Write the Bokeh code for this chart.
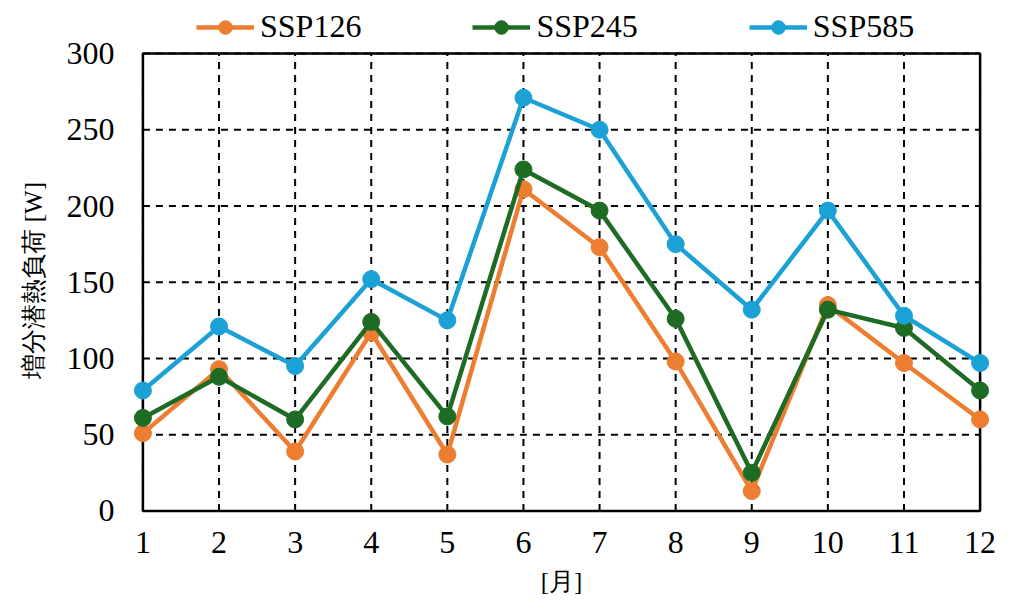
import numpy as np
from bokeh.plotting import figure
from bokeh.models import Range1d, FixedTicker, Legend, LegendItem, Title
from bokeh.embed import file_html
from bokeh.resources import INLINE

months = list(range(1, 13))
y_ticks = [0, 50, 100, 150, 200, 250, 300]
ssp126 = [51, 93, 39, 117, 37, 211, 173, 98, 13, 135, 97, 60]
ssp245 = [61, 88, 60, 124, 62, 224, 197, 126, 25, 132, 120, 79]
ssp585 = [79, 121, 95, 152, 125, 271, 250, 175, 132, 197, 128, 97]

series = [
    ("SSP126", ssp126, "#ED7D31"),
    ("SSP245", ssp245, "#1E6B24"),
    ("SSP585", ssp585, "#1BA1D6"),
]

SERIF = "Liberation Serif"

# the frame reaches up to the top edge so that the legend can sit above the box
p = figure(frame_width=860, frame_height=515,
           x_range=Range1d(0.85, 12.15), y_range=Range1d(-3, 334.8),
           output_backend="svg", toolbar_location=None,
           min_border_left=130, min_border_top=0,
           min_border_right=20, min_border_bottom=80)
p.outline_line_color = None
p.background_fill_color = "white"
p.border_fill_color = "white"
p.grid.visible = False

# dashed grid and the box, drawn only inside 1..12 / 0..300
x0, x1 = months[0], months[-1]
y0, y1 = y_ticks[0], y_ticks[-1]
p.segment(x0=months, x1=months, y0=[y0] * len(months), y1=[y1] * len(months),
          line_color="black", line_width=2, line_dash="7 6")
p.segment(x0=[x0] * len(y_ticks), x1=[x1] * len(y_ticks), y0=y_ticks, y1=y_ticks,
          line_color="black", line_width=2, line_dash="7 6")
p.quad(left=[x0], right=[x1], bottom=[y0], top=[y1], fill_color=None,
       line_color="black", line_width=2.5)

p.xaxis.ticker = FixedTicker(ticks=months)
p.yaxis.ticker = FixedTicker(ticks=y_ticks)
for ax in (p.xaxis, p.yaxis):
    ax.axis_line_color = None
    ax.major_tick_line_color = None
    ax.minor_tick_line_color = None
    ax.major_tick_out = 0
    ax.major_tick_in = 0
    ax.major_label_text_font = SERIF
    ax.major_label_text_font_size = "32px"
    ax.major_label_text_color = "black"
p.xaxis.major_label_standoff = 16
p.yaxis.major_label_standoff = 17
p.xaxis.axis_label = "[月]"
p.xaxis.axis_label_text_font = SERIF
p.xaxis.axis_label_text_font_size = "25px"
p.xaxis.axis_label_text_font_style = "normal"
p.xaxis.axis_label_text_color = "black"
p.xaxis.axis_label_standoff = 12

# y label as a side title so it can be centred on the box, not the frame
ylab = Title(text="増分潜熱負荷 [W]", align="left", offset=137, standoff=34,
             text_font=SERIF, text_font_size="25px", text_font_style="normal",
             text_color="black")
p.add_layout(ylab, "left")

items = []
for name, vals, color in series:
    ln = p.line(months, vals, line_color=color, line_width=4.5)
    sc = p.scatter(months, vals, size=17, fill_color=color, line_color=color)
    items.append(LegendItem(label=name, renderers=[ln, sc]))

legend = Legend(items=items, orientation="horizontal", location=(65, 470),
                label_text_font=SERIF, label_text_font_size="32px",
                label_text_color="black",
                glyph_width=58, glyph_height=34, label_standoff=6,
                spacing=111, padding=0, margin=0,
                border_line_color=None, background_fill_alpha=0)
p.add_layout(legend, "center")

open("out.html", "w").write(file_html(p, INLINE))
